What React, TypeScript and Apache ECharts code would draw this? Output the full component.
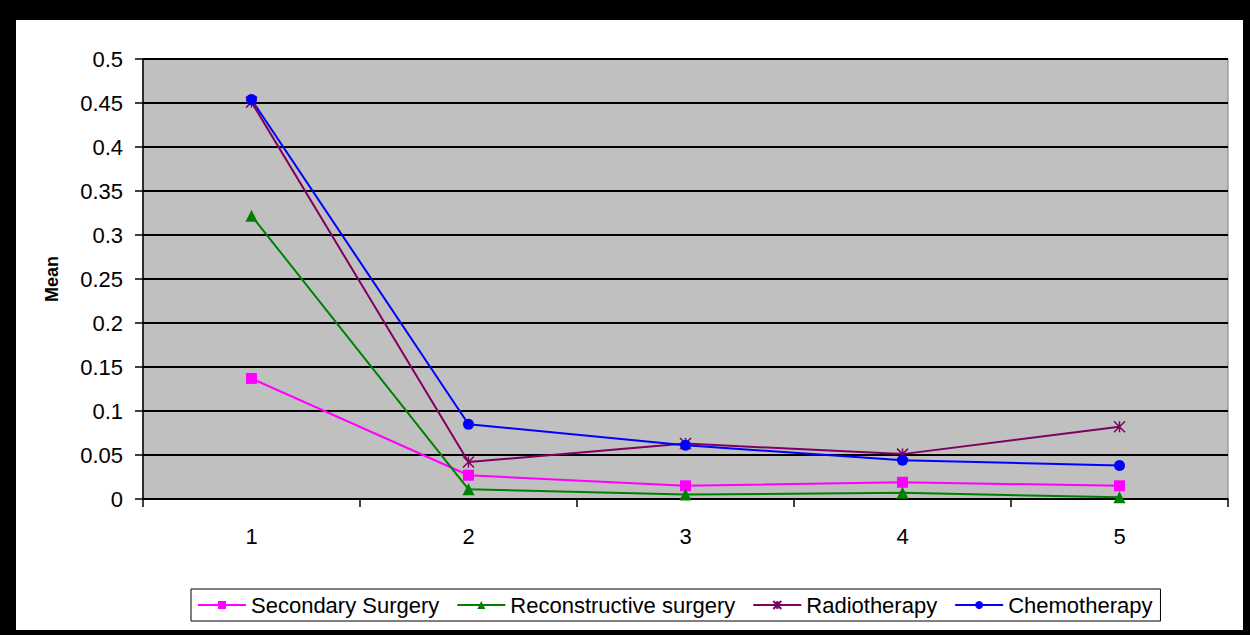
import React, { useEffect, useRef } from "react";
import * as echarts from "echarts";

const categories = ["1", "2", "3", "4", "5"];
const secondarySurgery = [0.137, 0.027, 0.015, 0.019, 0.015];
const reconstructiveSurgery = [0.322, 0.011, 0.005, 0.007, 0.002];
const radiotherapy = [0.451, 0.042, 0.063, 0.051, 0.082];
const chemotherapy = [0.454, 0.085, 0.061, 0.044, 0.038];
const yTicks = [0, 0.05, 0.1, 0.15, 0.2, 0.25, 0.3, 0.35, 0.4, 0.45, 0.5];

const FONT = "'Liberation Sans', Arial, sans-serif";
const starPath = "path://M0,0L10,10M10,0L0,10M5,0L5,10";

export default function App() {
  const ref = useRef<HTMLDivElement>(null);
  useEffect(() => {
    if (!ref.current) return;
    const chart = echarts.init(ref.current, undefined, { renderer: "svg" });
    const mk = (name: string, data: number[], color: string, symbol: string, size: number, extra: any = {}) => ({
      name,
      type: "line",
      data,
      symbol,
      symbolSize: size,
      showSymbol: true,
      lineStyle: { color, width: 2 },
      itemStyle: { color, ...extra },
      emphasis: { disabled: true },
    });
    chart.setOption({
      animation: false,
      backgroundColor: "transparent",
      grid: {
        left: 143,
        top: 59,
        right: 22,
        bottom: 136,
        show: true,
        backgroundColor: "#c0c0c0",
        borderColor: "#808080",
        borderWidth: 1,
      },
      xAxis: {
        type: "category",
        data: categories,
        boundaryGap: true,
        axisLine: { lineStyle: { color: "#000", width: 1.5 } },
        axisTick: { show: true, length: 8, lineStyle: { color: "#000", width: 1.5 } },
        axisLabel: { color: "#000", fontSize: 22, fontFamily: FONT, margin: 26 },
        splitLine: { show: false },
      },
      yAxis: {
        type: "value",
        min: 0,
        max: 0.5,
        interval: 0.05,
        name: "Mean",
        nameLocation: "middle",
        nameGap: 82,
        nameTextStyle: { color: "#000", fontSize: 18, fontWeight: "bold", fontFamily: FONT },
        axisLine: { show: true, lineStyle: { color: "#000", width: 1.5 } },
        axisTick: { show: true, length: 8, lineStyle: { color: "#000", width: 1.5 } },
        axisLabel: {
          color: "#000",
          fontSize: 22,
          fontFamily: FONT,
          margin: 20,
          formatter: (v: number) => {
            const t = yTicks.find((x) => Math.abs(x - v) < 1e-9);
            return t === undefined ? "" : String(Math.round(t * 100) / 100);
          },
        },
        splitLine: { show: true, lineStyle: { color: "#000", width: 2 } },
      },
      legend: {
        left: 191,
        top: 589,
        padding: [5, 8, 5, 6],
        itemWidth: 48,
        itemHeight: 10,
        itemGap: 17,
        borderColor: "#000",
        borderWidth: 1,
        backgroundColor: "#fff",
        textStyle: { color: "#000", fontSize: 22, fontFamily: FONT },
        data: ["Secondary Surgery", "Reconstructive surgery", "Radiotherapy", "Chemotherapy"],
      },
      series: [
        mk("Secondary Surgery", secondarySurgery, "#ff00ff", "rect", 11),
        mk("Reconstructive surgery", reconstructiveSurgery, "#008000", "triangle", 12),
        mk("Radiotherapy", radiotherapy, "#800060", starPath, 11, { borderColor: "#800060", borderWidth: 1.5 }),
        mk("Chemotherapy", chemotherapy, "#0000ff", "circle", 11),
      ],
    });
    return () => chart.dispose();
  }, []);
  return (
    <div style={{ position: "fixed", left: 0, top: 0, width: 1250, height: 635, background: "#000" }}>
      <div style={{ position: "absolute", left: 16, top: 20, width: 1227, height: 610, background: "#fff" }} />
      <div ref={ref} style={{ position: "absolute", left: 0, top: 0, width: 1250, height: 635 }} />
    </div>
  );
}
